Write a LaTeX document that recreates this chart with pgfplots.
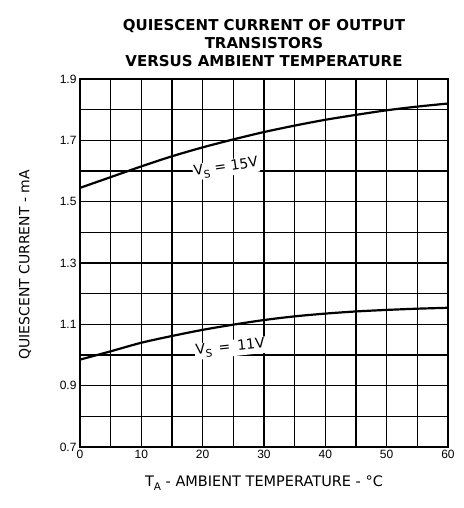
\documentclass[border=0pt]{standalone}
\usepackage{fontspec}
\setmainfont{Liberation Sans}
\newfontfamily\dvs{DejaVu Sans}
\usepackage{pgfplots}
\pgfplotsset{compat=1.18}
\newcommand{\sub}[1]{\raisebox{-4pt}{\fontsize{10.5}{11}\selectfont #1}}
\begin{document}
\begin{tikzpicture}
\begin{axis}[
  at={(0,0)}, anchor=south west,
  scale only axis, width=368pt, height=368pt,
  xmin=0, xmax=60, ymin=0.7, ymax=1.9,
  xtick={0,10,...,60}, ytick={0.7,0.9,...,1.9},
  minor x tick num=1, minor y tick num=1,
  grid=both,
  major grid style={black, line width=1.5pt},
  minor grid style={black, line width=1.5pt},
  axis line style={black, line width=2.2pt},
  major tick length=0pt, minor tick length=0pt,
  tick label style={font=\fontsize{12}{14}\selectfont},
  /pgf/number format/assume math mode=true,
  yticklabel={\pgfmathprintnumber[fixed,fixed zerofill,precision=1]{\tick}},
  clip=false,
]
\addplot[black, line width=2.2pt, smooth] coordinates {
 (0,1.545) (5,1.58) (10,1.615) (15,1.648) (20,1.677) (25,1.703) (30,1.727)
 (35,1.748) (40,1.767) (45,1.783) (50,1.798) (55,1.81) (60,1.82)};
\addplot[black, line width=2.2pt, smooth] coordinates {
 (0,0.985) (5,1.012) (10,1.04) (15,1.062) (20,1.082) (25,1.099) (30,1.114)
 (35,1.126) (40,1.135) (45,1.142) (50,1.147) (55,1.151) (60,1.154)};
\node[fill=white, inner sep=1pt, rotate=8, font=\dvs\fontsize{14}{15}\selectfont] at (axis cs:23.8,1.61) {V\sub{S}\,\,=\,\,15V};
\node[fill=white, inner sep=1pt, rotate=6, font=\dvs\fontsize{14}{15}\selectfont] at (axis cs:24.5,1.022) {V\sub{S}\,\,\,=\,\,\,11V};
\node[anchor=south, align=center, font=\dvs\bfseries\fontsize{15}{18}\selectfont] at ([yshift=9pt]rel axis cs:0.5,1) {QUIESCENT CURRENT OF OUTPUT\\TRANSISTORS\\VERSUS AMBIENT TEMPERATURE};
\node[rotate=90, font=\dvs\fontsize{14}{16}\selectfont] at ([xshift=-55pt]rel axis cs:0,0.495) {QUIESCENT CURRENT - mA};
\node[font=\dvs\fontsize{14.5}{16}\selectfont] at ([yshift=-36pt]rel axis cs:0.5,0) {T\sub{A} - AMBIENT TEMPERATURE - °C};
\end{axis}
\useasboundingbox (-80pt,-61pt) rectangle (383pt,447pt);
\end{tikzpicture}
\end{document}
